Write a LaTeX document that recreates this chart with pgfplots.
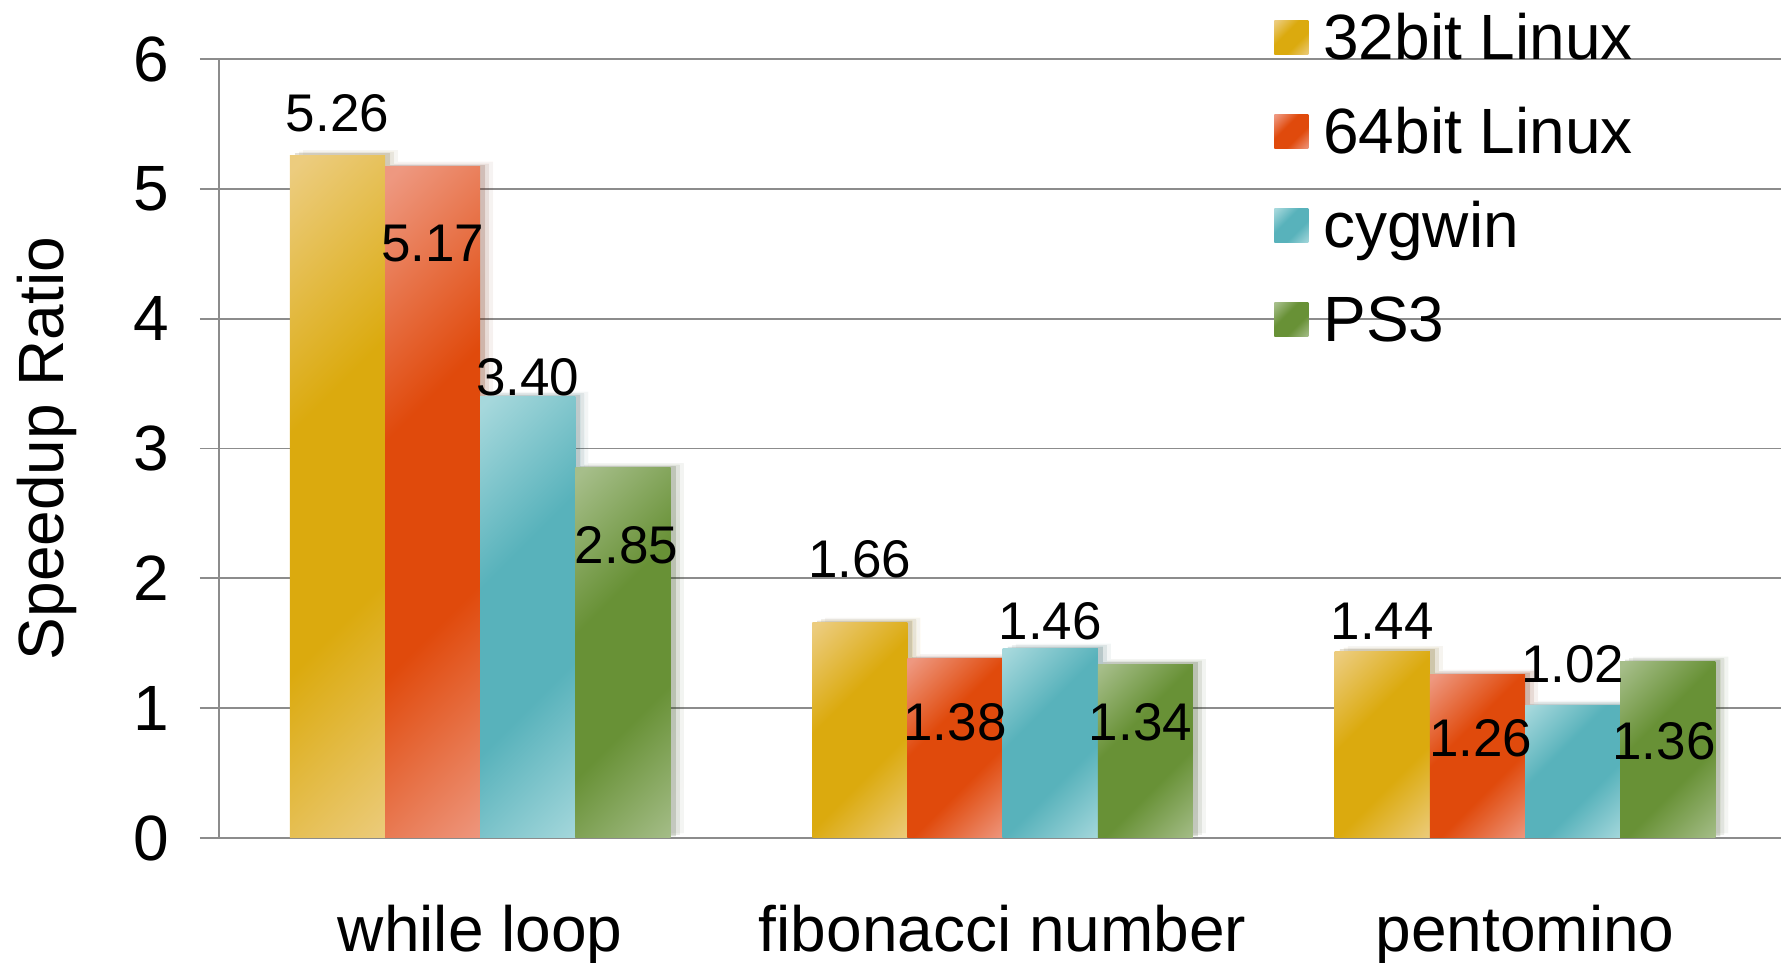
\documentclass[border=0pt]{standalone}
\usepackage{pgfplots}
\pgfplotsset{compat=1.18}
\usepackage{fontspec}
\setmainfont{Liberation Sans}

% series colours: saturated body and light highlight
\definecolor{cGold}{RGB}{219,170,14}
\definecolor{cGoldL}{RGB}{236,204,126}
\definecolor{cRust}{RGB}{224,74,12}
\definecolor{cRustL}{RGB}{238,152,128}
\definecolor{cTeal}{RGB}{88,178,187}
\definecolor{cTealL}{RGB}{166,216,220}
\definecolor{cMoss}{RGB}{104,145,54}
\definecolor{cMossL}{RGB}{166,190,138}
\definecolor{gridgray}{RGB}{140,140,140}

% diagonal highlight shadings for the bars
\pgfdeclarehorizontalshading{goldshade}{100bp}{color(0bp)=(cGoldL); color(16bp)=(cGoldL); color(40bp)=(cGold); color(62bp)=(cGold); color(86bp)=(cGoldL); color(100bp)=(cGoldL)}
\pgfdeclarehorizontalshading{rustshade}{100bp}{color(0bp)=(cRustL); color(16bp)=(cRustL); color(40bp)=(cRust); color(62bp)=(cRust); color(86bp)=(cRustL); color(100bp)=(cRustL)}
\pgfdeclarehorizontalshading{tealshade}{100bp}{color(0bp)=(cTealL); color(16bp)=(cTealL); color(40bp)=(cTeal); color(62bp)=(cTeal); color(86bp)=(cTealL); color(100bp)=(cTealL)}
\pgfdeclarehorizontalshading{mossshade}{100bp}{color(0bp)=(cMossL); color(16bp)=(cMossL); color(40bp)=(cMoss); color(62bp)=(cMoss); color(86bp)=(cMossL); color(100bp)=(cMossL)}

\newcommand{\bigfont}{\fontsize{32}{38}\selectfont}
\newcommand{\valfont}{\fontsize{26.5}{30}\selectfont}

\tikzset{
  barshadow/.style={
    preaction={fill=black, fill opacity=0.11, transform canvas={xshift=2.5pt, yshift=0.8pt}},
    preaction={fill=black, fill opacity=0.06, transform canvas={xshift=4.5pt, yshift=1.6pt}},
    preaction={fill=black, fill opacity=0.03, transform canvas={xshift=6.5pt, yshift=2.4pt}}},
  val/.style={font=\valfont, inner sep=0pt, anchor=center}
}
\pgfplotsset{
  sqlegend/.style={legend image code/.code={\path[##1] (0pt,-6pt) rectangle (17pt,11pt);}},
  % one style per series; every bar is its own plot so that each gets its own shading
  s32/.style={forget plot, draw=none, shading=goldshade, shading angle=-45, barshadow, bar shift=-0.2733},
  s64/.style={forget plot, draw=none, shading=rustshade, shading angle=-45, barshadow, bar shift=-0.0911},
  scyg/.style={forget plot, draw=none, shading=tealshade, shading angle=-45, barshadow, bar shift=0.0911},
  sps3/.style={forget plot, draw=none, shading=mossshade, shading angle=-45, barshadow, bar shift=0.2733},
}

\begin{document}
\begin{tikzpicture}
\begin{axis}[
  scale only axis, width=781pt, height=389.5pt,
  xmin=-0.5, xmax=2.49, ymin=0, ymax=6,
  axis lines*=left,
  axis line style={gridgray, line width=0.9pt},
  ymajorgrids, grid style={gridgray, line width=0.9pt},
  ytick={0,1,...,6},
  xtick={0,1,2}, xticklabels={while loop, fibonacci number, pentomino},
  x tick style={draw=none},
  y tick style={gridgray, line width=0.9pt},
  tick align=outside, major tick length=9.5pt,
  /pgf/number format/assume math mode=true,
  ticklabel style={font=\bigfont},
  yticklabel style={inner sep=0pt, xshift=-15.5pt},
  xticklabel style={anchor=base, inner sep=0pt, yshift=-47.5pt},
  ylabel={Speedup Ratio},
  ylabel style={font=\bigfont, inner sep=0pt, at={(axis description cs:-0.0909,0.5)}, anchor=south},
  ybar, bar width=0.1822,
  legend style={draw=none, fill=none, at={(axis description cs:0.6754,1.0616)}, anchor=north west,
    font=\bigfont, row sep=16pt, column sep=7.5pt, inner sep=0pt,
    nodes={inner sep=0pt, text height=24pt, text depth=7pt}, cells={anchor=west}},
  clip=false,
]
% 32bit Linux
\addplot[s32] coordinates {(0,5.26)};
\addplot[s32] coordinates {(1,1.66)};
\addplot[s32] coordinates {(2,1.44)};
% 64bit Linux
\addplot[s64] coordinates {(0,5.17)};
\addplot[s64] coordinates {(1,1.38)};
\addplot[s64] coordinates {(2,1.26)};
% cygwin
\addplot[scyg] coordinates {(0,3.40)};
\addplot[scyg] coordinates {(1,1.46)};
\addplot[scyg] coordinates {(2,1.02)};
% PS3
\addplot[sps3] coordinates {(0,2.85)};
\addplot[sps3] coordinates {(1,1.34)};
\addplot[sps3] coordinates {(2,1.36)};

\addlegendimage{sqlegend, draw=none, shading=goldshade, shading angle=-45}
\addlegendentry{32bit Linux}
\addlegendimage{sqlegend, draw=none, shading=rustshade, shading angle=-45}
\addlegendentry{64bit Linux}
\addlegendimage{sqlegend, draw=none, shading=tealshade, shading angle=-45}
\addlegendentry{cygwin}
\addlegendimage{sqlegend, draw=none, shading=mossshade, shading angle=-45}
\addlegendentry{PS3}

% value labels
\node[val] at (axis cs:-0.2733,5.58) {5.26};
\node[val] at (axis cs:-0.0911,4.575) {5.17};
\node[val] at (axis cs:0.0911,3.55) {3.40};
\node[val] at (axis cs:0.2800,2.257) {2.85};
\node[val] at (axis cs:0.7267,2.143) {1.66};
\node[val] at (axis cs:0.9089,0.892) {1.38};
\node[val] at (axis cs:1.0911,1.671) {1.46};
\node[val] at (axis cs:1.2640,0.892) {1.34};
\node[val] at (axis cs:1.7267,1.671) {1.44};
\node[val] at (axis cs:1.9150,0.770) {1.26};
\node[val] at (axis cs:2.0911,1.338) {1.02};
\node[val] at (axis cs:2.2660,0.743) {1.36};

\coordinate (O) at (rel axis cs:0,0);
\coordinate (T) at (rel axis cs:1,1);
\end{axis}
\pgfresetboundingbox
\path[use as bounding box] ([xshift=-109.5pt,yshift=-62.5pt]O) rectangle ([yshift=29.5pt]T);
\end{tikzpicture}
\end{document}
